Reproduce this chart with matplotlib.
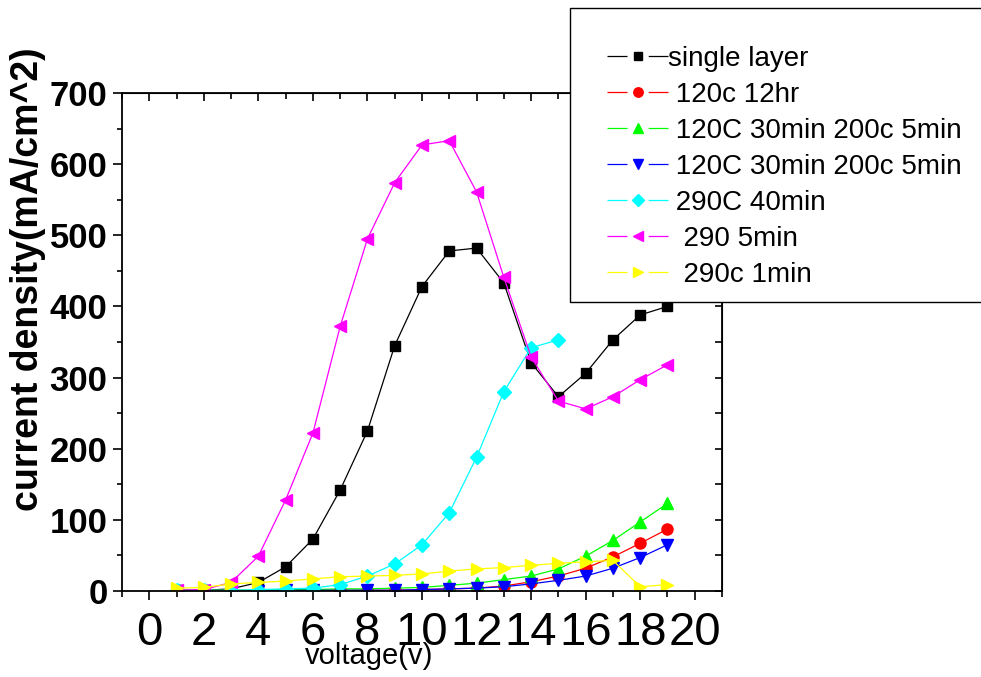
import numpy as np
import matplotlib
matplotlib.use("Agg")
import matplotlib.pyplot as plt
from matplotlib.ticker import MultipleLocator
from matplotlib.patches import Rectangle
from matplotlib.lines import Line2D

plt.rcParams['font.family'] = ['Liberation Sans', 'DejaVu Sans']

# data (voltage steps 1..19 V)
voltage = np.arange(1, 20)
voltage_290c_40 = np.arange(1, 16)

single_layer = [1, 1, 3, 12, 34, 73, 142, 225, 345, 428, 478, 482, 433, 321, 273, 306, 353, 388, 400]
c120_12hr = [1, 1, 1, 1, 1, 1, 1, 1, 1, 2, 3, 4, 7, 13, 21, 32, 48, 67, 87]
c120_200_a = [1, 1, 1, 1, 2, 2, 3, 3, 4, 5, 8, 11, 16, 21, 31, 49, 71, 97, 123]
c120_200_b = [0, 0, 0, 0, 1, 1, 1, 1, 1, 2, 3, 4, 6, 10, 15, 21, 32, 47, 65]
c290_40min = [1, 1, 1, 2, 3, 4, 9, 21, 38, 65, 110, 188, 280, 342, 353]
c290_5min = [1, 2, 12, 49, 128, 222, 372, 495, 574, 627, 633, 561, 441, 329, 267, 256, 273, 297, 318]
c290_1min = [4, 5, 10, 12, 14, 17, 20, 21, 22, 24, 28, 31, 33, 36, 39, 41, 43, 6, 9]

labels = ["single layer", " 120c 12hr", " 120C 30min 200c 5min", " 120C 30min 200c 5min",
          " 290C 40min", "  290 5min", "  290c 1min"]

fig = plt.figure(figsize=(9.81, 6.77), dpi=100)
ax = fig.add_axes([122 / 981, 86 / 677, 600 / 981, 498 / 677])

series = [
    (voltage, single_layer, 'black', 's', 7),
    (voltage, c120_12hr, '#ff0000', 'o', 8),
    (voltage, c120_200_a, '#00ff00', '^', 9),
    (voltage, c120_200_b, '#0000ff', 'v', 9),
    (voltage_290c_40, c290_40min, '#00ffff', 'D', 7),
    (voltage, c290_5min, '#ff00ff', '<', 9),
    (voltage, c290_1min, '#ffff00', '>', 9),
]
handles = []
for (x, y, c, m, ms), lab in zip(series, labels):
    ax.plot(x, y, color=c, marker=m, markersize=ms, lw=0.9, label=lab)
    # legend handle: line broken around the marker
    handles.append(Line2D([], [], color=c, marker=m, markersize=ms * 0.85, lw=0.9,
                          linestyle=(0, (16, 17, 16, 60))))

ax.set_xlim(-1, 21)
ax.set_ylim(0, 700)
ax.xaxis.set_major_locator(MultipleLocator(2))
ax.xaxis.set_minor_locator(MultipleLocator(1))
ax.yaxis.set_major_locator(MultipleLocator(100))
ax.yaxis.set_minor_locator(MultipleLocator(50))
ax.tick_params(axis='x', which='major', direction='out', length=6.5, width=1.2, labelsize=34, pad=8)
ax.tick_params(axis='x', which='minor', direction='out', length=4.3, width=1.2)
ax.tick_params(axis='y', which='major', direction='out', length=6.5, width=1.2, labelsize=25, pad=4)
ax.tick_params(axis='y', which='minor', direction='out', length=3.6, width=1.2)
for lbl in ax.get_yticklabels():
    lbl.set_fontweight('bold')
for s in ax.spines.values():
    s.set_linewidth(1.3)

# inward ticks on top and right
top = ax.secondary_xaxis('top')
top.xaxis.set_major_locator(MultipleLocator(2))
top.xaxis.set_minor_locator(MultipleLocator(1))
top.tick_params(axis='x', which='major', direction='in', length=6, width=1.2, labeltop=False)
top.tick_params(axis='x', which='minor', direction='in', length=4, width=1.2)
right = ax.secondary_yaxis('right')
right.yaxis.set_major_locator(MultipleLocator(100))
right.yaxis.set_minor_locator(MultipleLocator(50))
right.tick_params(axis='y', which='major', direction='in', length=5, width=1.2, labelright=False)
right.tick_params(axis='y', which='minor', direction='in', length=5, width=1.2)

fig.text(28 / 981, 1 - 279 / 677, "current density(mA/cm^2)", rotation=90,
         ha='center', va='center', fontsize=27, fontweight='bold')
fig.text(369 / 981, 1 - 656 / 677, "voltage(v)", ha='center', va='center', fontsize=21)

# legend box that runs off the right edge, drawn over the axes
fig.add_artist(Rectangle((570 / 981, 1 - 302 / 677), 0.5, 294 / 677, transform=fig.transFigure,
                         facecolor='white', edgecolor='black', lw=1, zorder=3))
leg = fig.legend(handles, labels, loc='upper left', bbox_to_anchor=(607 / 981, 1 - 46 / 677),
                 frameon=False, fontsize=20, handlelength=2.2, handletextpad=0,
                 labelspacing=0.36, borderpad=0, borderaxespad=0)
leg.set_zorder(5)

fig.savefig("out.png", dpi=100)
